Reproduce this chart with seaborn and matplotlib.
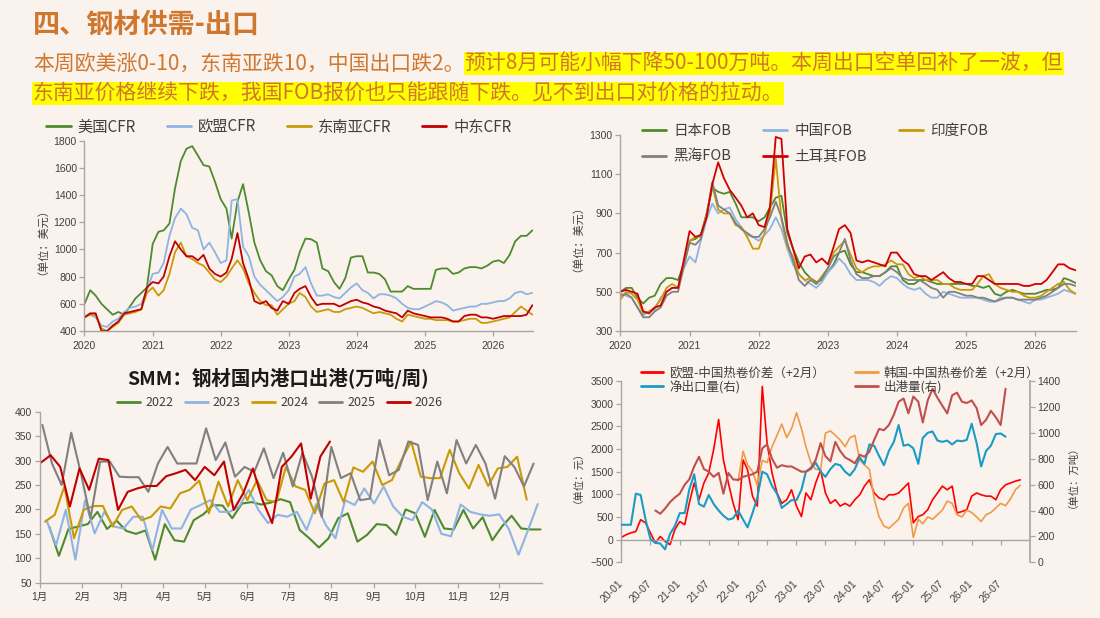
import numpy as np
import pandas as pd
import seaborn as sns
import matplotlib.pyplot as plt
import matplotlib.dates as mdates

# ---------------- data ----------------
# top-left: CFR prices, monthly from 2020-01 (USD/t)
us_cfr = [600, 700, 660, 600, 560, 520, 540, 520, 580, 640,
          680, 720, 1040, 1130, 1140, 1190, 1450, 1650, 1740, 1760,
          1690, 1620, 1610, 1500, 1370, 1300, 1080, 1350, 1480, 1270,
          1050, 920, 840, 810, 730, 700, 780, 850, 980, 1080,
          1075, 1050, 860, 840, 760, 710, 790, 940, 950, 950,
          830, 830, 820, 780, 690, 690, 690, 730, 710, 710,
          710, 710, 850, 860, 860, 820, 830, 860, 870, 870,
          860, 880, 910, 920, 900, 960, 1060, 1100, 1100, 1140]
eu_cfr = [510, 520, 500, 440, 430, 470, 490, 540, 570, 580,
          600, 700, 820, 830, 900, 1100, 1230, 1300, 1260, 1160,
          1140, 1000, 1050, 980, 900, 920, 1360, 1370, 1020, 950,
          800, 740, 700, 660, 620, 650, 700, 800, 820, 870,
          750, 660, 660, 670, 650, 640, 680, 720, 750, 700,
          680, 640, 670, 670, 660, 640, 600, 570, 560, 560,
          580, 600, 620, 610, 590, 550, 560, 570, 580, 580,
          600, 600, 610, 620, 620, 640, 680, 690, 670, 680]
sea_cfr = [500, 520, 520, 420, 400, 430, 460, 520, 530, 540,
           560, 680, 720, 660, 700, 820, 980, 1050, 950, 930,
           900, 880, 830, 780, 760, 800, 860, 920, 860, 750,
           680, 620, 590, 590, 520, 560, 600, 620, 680, 650,
           580, 540, 550, 560, 540, 540, 560, 570, 580, 570,
           550, 530, 540, 530, 520, 490, 470, 520, 510, 500,
           490, 490, 480, 480, 480, 470, 470, 480, 490, 490,
           460, 460, 470, 480, 490, 500, 540, 580, 550, 520]
me_cfr = [500, 530, 530, 400, 400, 440, 470, 530, 540, 550,
          560, 720, 760, 750, 800, 950, 1060, 1000, 950, 950,
          920, 960, 860, 820, 800, 830, 930, 1120, 900, 780,
          620, 600, 620, 570, 550, 620, 600, 680, 710, 730,
          650, 590, 600, 600, 600, 580, 600, 620, 630, 610,
          600, 580, 570, 550, 540, 530, 500, 550, 530, 520,
          510, 500, 500, 500, 490, 470, 470, 510, 520, 520,
          500, 500, 490, 500, 510, 510, 510, 510, 520, 590]

# top-right: FOB prices, monthly from 2020-01 (USD/t)
jp_fob = [500, 520, 520, 470, 440, 470, 480, 540, 570, 570,
          560, 640, 760, 770, 790, 900, 1030, 1010, 1000, 1010,
          950, 880, 880, 880, 860, 880, 930, 980, 990, 800,
          720, 650, 600, 570, 550, 560, 600, 640, 700, 710,
          640, 600, 600, 590, 580, 580, 600, 630, 630, 560,
          540, 540, 560, 560, 550, 540, 540, 540, 540, 540,
          540, 530, 530, 520, 530, 490, 480, 500, 510, 500,
          490, 490, 490, 500, 510, 510, 520, 570, 560, 545]
cn_fob = [490, 480, 470, 420, 380, 400, 410, 470, 500, 520,
          520, 620, 680, 650, 760, 870, 950, 900, 920, 930,
          870, 830, 790, 780, 760, 790, 820, 880, 820, 720,
          640, 590, 560, 540, 520, 550, 600, 630, 670, 640,
          590, 560, 560, 560, 550, 530, 560, 580, 570, 540,
          520, 510, 520, 490, 470, 470, 500, 490, 480, 470,
          470, 470, 470, 460, 450, 450, 470, 470, 470, 460,
          450, 440, 460, 460, 470, 480, 490, 510, 500, 490]
in_fob = [460, 500, 490, 460, 390, 400, 420, 460, 520, 540,
          520, 630, 760, 780, 780, 900, 1040, 920, 900, 900,
          840, 830, 780, 720, 720, 800, 900, 1180, 870, 730,
          680, 590, 560, 570, 540, 580, 620, 700, 730, 760,
          690, 620, 600, 620, 630, 630, 640, 660, 640, 640,
          590, 570, 580, 560, 560, 560, 540, 540, 520, 510,
          510, 510, 540, 580, 590, 540, 520, 510, 500, 500,
          480, 470, 470, 480, 500, 520, 540, 550, 510, 490]
bs_fob = [480, 490, 470, 420, 370, 370, 400, 420, 480, 500,
          500, 630, 750, 740, 770, 890, 1060, 940, 920, 900,
          850, 820, 800, 780, 780, 820, 880, 960, 880, 750,
          660, 560, 530, 560, 540, 570, 620, 680, 700, 770,
          660, 590, 570, 570, 580, 580, 600, 620, 600, 570,
          560, 560, 560, 540, 520, 510, 470, 500, 500, 490,
          480, 480, 470, 470, 460, 450, 460, 470, 470, 460,
          460, 460, 460, 470, 480, 500, 520, 540, 540, 530]
tr_fob = [500, 510, 500, 490, 400, 390, 420, 430, 500, 520,
          520, 660, 810, 780, 790, 880, 1050, 1160, 1080, 1020,
          980, 940, 880, 900, 840, 830, 930, 1290, 1280, 820,
          720, 620, 680, 690, 650, 670, 640, 730, 820, 840,
          800, 660, 650, 660, 650, 640, 630, 700, 700, 660,
          640, 590, 580, 580, 560, 580, 600, 570, 550, 550,
          540, 540, 580, 580, 560, 540, 540, 540, 540, 540,
          530, 530, 540, 540, 560, 600, 640, 640, 620, 610]

# bottom-left: SMM weekly port outflow (10k t/week)
y2022 = [165, 105, 160, 165, 170, 195, 160, 177, 156, 150,
         157, 97, 170, 137, 134, 178, 190, 209, 208, 182,
         212, 215, 210, 214, 221, 215, 158, 141, 122, 141,
         182, 192, 134, 148, 170, 168, 148, 200, 192, 144,
         199, 161, 159, 199, 161, 184, 137, 165, 187, 161,
         159, 159]
y2023 = [178, 127, 199, 97, 219, 151, 195, 165, 161, 185,
         185, 117, 199, 161, 161, 200, 209, 219, 195, 195,
         206, 240, 199, 172, 189, 185, 195, 158, 211, 168,
         141, 219, 209, 243, 212, 247, 206, 185, 178, 215,
         200, 150, 145, 210, 195, 190, 187, 190, 160, 107,
         158, 211]
y2024 = [175, 189, 247, 141, 199, 207, 207, 165, 199, 206,
         178, 185, 206, 202, 233, 240, 259, 192, 257, 206,
         260, 219, 260, 219, 215, 287, 247, 240, 192, 253,
         260, 215, 286, 277, 298, 250, 260, 301, 339, 267,
         264, 264, 322, 274, 243, 291, 248, 284, 287, 308,
         220]
y2025 = [373, 294, 250, 357, 274, 182, 298, 298, 267, 266,
         266, 236, 294, 328, 294, 294, 294, 366, 301, 337,
         267, 287, 277, 325, 264, 316, 247, 316, 267, 185,
         328, 264, 274, 219, 222, 342, 270, 281, 339, 332,
         219, 298, 233, 342, 294, 332, 294, 222, 309, 287,
         247, 294]
y2026 = [296, 311, 287, 206, 284, 240, 304, 301, 199, 236,
         243, 248, 248, 268, 274, 281, 260, 287, 270, 298,
         199, 233, 284, 219, 172, 287, 308, 335, 222, 308,
         339]
port_years = ['2022', '2023', '2024', '2025', '2026']
first_report_day = [8, 6, 5, 3, 2]  # day of year of first weekly report

# bottom-right: price spreads (yuan, left) and volumes (10k t, right), monthly from 2020-01
eu_spread = [50, 110, 150, 180, 440, 370, 150, -70, 70, -40,
             -110, 220, 400, 330, 800, 1250, 880, 1250, 1470, 1990,
             2650, 1760, 1250, 800, 440, 1760, 1540, 960, 740, 3380,
             2130, 1470, 1030, 800, 880, 1100, 740, 510, 1030, 880,
             1250, 1540, 1030, 800, 880, 740, 800, 740, 880, 990,
             1180, 1320, 1030, 920, 880, 990, 990, 1030, 1140, 1250,
             370, 510, 550, 660, 880, 1030, 1180, 1100, 1180, 590,
             620, 660, 960, 1030, 990, 960, 960, 880, 1100, 1210,
             1250, 1290, 1320]
kr_spread = [1300, 1950, 1650, 1500, 1200, 1750,                 # from 2022-01
             1700, 2050, 2300, 2550, 2250, 2450, 2800, 2450, 2050, 1700,
             1550, 1550, 2350, 2400, 2300, 2200, 2050, 2250, 2300, 1750,
             1650, 1550, 900, 500, 300, 250, 350, 450, 700, 800,
             50, 450, 350, 500, 450, 550, 650, 850, 800, 550,
             500, 650, 600, 500, 400, 550, 600, 700, 800, 750,
             900, 1100, 1200]
net_export = [290, 290, 290, 530, 520, 330, 180, 150, 145, 100,
              220, 280, 380, 380, 560, 680, 450, 430, 520, 450,
              400, 360, 330, 340, 400, 330, 270, 380, 500, 700,
              680, 590, 530, 420, 450, 480, 480, 560, 700, 720,
              770, 700, 660, 720, 760, 750, 700, 670, 720, 810,
              760, 910, 900, 820, 750, 860, 930, 1060, 900, 910,
              880, 760, 960, 1000, 1010, 940, 930, 940, 910, 940,
              935, 945, 1070, 920, 740, 860, 900, 990, 995, 970]
port_out = [400, 375, 415,                                     # from 2020-08
            465, 500, 530, 600, 640, 740, 815, 720, 700, 660,
            690, 530, 690, 640, 636, 660, 670, 680, 700, 880,
            910, 800, 730, 750, 740, 740, 720, 700, 700, 730,
            790, 920, 820, 780, 930, 860, 810, 790, 765, 830,
            815, 855, 945, 1030, 1020, 1060, 1140, 1240, 1265, 1150,
            1280, 1240, 1080, 1250, 1340, 1270, 1210, 1150, 1290, 1310,
            1240, 1230, 1250, 1190, 1060, 1100, 1170, 1120, 1060, 1340]

# ---------------- style ----------------
BG = '#FAF2ED'
ORANGE = '#D0772F'
SPINE = '#A6A6A6'
TXT = '#404040'
GREEN, LBLUE, GOLD, GRAY, DRED = '#4E8A2E', '#8DB4E2', '#C99A06', '#808080', '#C00000'

sns.set_theme(style='ticks')
plt.rcParams['font.family'] = ['Liberation Sans', 'Noto Sans CJK SC', 'DejaVu Sans']
plt.rcParams['axes.unicode_minus'] = True
CJK = ['Noto Sans CJK SC', 'DejaVu Sans']

fig = plt.figure(figsize=(11, 6.18), dpi=100)
fig.patch.set_facecolor(BG)


def style_axes(ax):
    ax.set_facecolor(BG)
    sns.despine(ax=ax)
    for s in ('left', 'bottom'):
        ax.spines[s].set_color(SPINE)
        ax.spines[s].set_linewidth(1.0)
    ax.tick_params(colors=SPINE, labelcolor=TXT, labelsize=7.5, length=3.5, width=0.9, pad=2)
    ax.set_xlabel('')
    ax.set_ylabel('')


def fig_legend(ax, handles, labels, xy, size, **kw):
    leg = ax.legend(handles, labels, loc='center', bbox_to_anchor=(xy[0] / 1100, 1 - xy[1] / 618),
                    bbox_transform=fig.transFigure, frameon=False, labelcolor=TXT,
                    prop={'family': CJK, 'size': size}, **kw)
    for ln in leg.get_lines():
        ln.set_linewidth(2.0)
    return leg


months = pd.date_range('2020-01-01', periods=80, freq='MS')

# ---- top-left: CFR ----
cfr_names = ['美国CFR', '欧盟CFR', '东南亚CFR', '中东CFR']
df_cfr = pd.DataFrame({'date': np.tile(months, 4),
                       'price': np.concatenate([us_cfr, eu_cfr, sea_cfr, me_cfr]),
                       'name': np.repeat(cfr_names, 80)})
ax1 = fig.add_axes([0.0768, 0.4644, 0.4077, 0.308])
sns.lineplot(data=df_cfr, x='date', y='price', hue='name', hue_order=cfr_names,
             palette=[GREEN, LBLUE, GOLD, DRED], estimator=None, linewidth=1.3, ax=ax1)
style_axes(ax1)
ax1.set_xlim(pd.Timestamp('2020-01-01'), pd.Timestamp('2026-08-04'))
ax1.set_ylim(400, 1800)
ax1.set_yticks(range(400, 1801, 200))
ax1.xaxis.set_major_locator(mdates.YearLocator())
ax1.xaxis.set_major_formatter(mdates.DateFormatter('%Y'))
ax1.tick_params(axis='x', pad=4)
ax1.set_ylabel('（单位：美元）', fontsize=8, color=TXT, family=CJK)
ax1.yaxis.set_label_coords(-0.0955, 0.5)
h, l = ax1.get_legend_handles_labels()
fig_legend(ax1, h, l, (279, 127), 11, ncol=4, handlelength=1.6, handletextpad=0.45, columnspacing=2.0)

# ---- top-right: FOB ----
fob_names = ['日本FOB', '中国FOB', '印度FOB', '黑海FOB', '土耳其FOB']
df_fob = pd.DataFrame({'date': np.tile(months, 5),
                       'price': np.concatenate([jp_fob, cn_fob, in_fob, bs_fob, tr_fob]),
                       'name': np.repeat(fob_names, 80)})
ax2 = fig.add_axes([0.5639, 0.4644, 0.4147, 0.3172])
sns.lineplot(data=df_fob, x='date', y='price', hue='name', hue_order=fob_names,
             palette=[GREEN, LBLUE, GOLD, GRAY, '#D00000'], estimator=None, linewidth=1.3, ax=ax2)
style_axes(ax2)
ax2.set_xlim(pd.Timestamp('2020-01-01'), pd.Timestamp('2026-08-06'))
ax2.set_ylim(300, 1300)
ax2.set_yticks(range(300, 1301, 200))
ax2.xaxis.set_major_locator(mdates.YearLocator())
ax2.xaxis.set_major_formatter(mdates.DateFormatter('%Y'))
ax2.tick_params(axis='x', pad=4)
ax2.set_ylabel('（单位：美元）', fontsize=8, color=TXT, family=CJK)
ax2.yaxis.set_label_coords(-0.095, 0.5)
h, l = ax2.get_legend_handles_labels()
order = [0, 3, 1, 4, 2]
fig_legend(ax2, [h[i] for i in order], [l[i] for i in order], (815, 144), 10.5, ncol=3,
           handlelength=1.65, handletextpad=0.5, columnspacing=2.2, labelspacing=0.8)

# ---- bottom-left: SMM weekly port outflow ----
frames = []
for yr, vals, d0 in zip(port_years, [y2022, y2023, y2024, y2025, y2026], first_report_day):
    frames.append(pd.DataFrame({'day': d0 + 7 * np.arange(len(vals)), 'vol': vals, 'year': yr}))
df_port = pd.concat(frames, ignore_index=True)
ax3 = fig.add_axes([0.036, 0.0571, 0.4566, 0.2767])
sns.lineplot(data=df_port, x='day', y='vol', hue='year', hue_order=port_years,
             palette=[GREEN, LBLUE, GOLD, GRAY, DRED], estimator=None, linewidth=1.5, ax=ax3)
style_axes(ax3)
ax3.set_xlim(1, 366)
ax3.set_ylim(50, 400)
ax3.set_yticks(range(50, 401, 50))
month_start = [1, 32, 60, 91, 121, 152, 182, 213, 244, 274, 305, 335]
ax3.set_xticks(month_start)
ax3.set_xticklabels([f'{i}月' for i in range(1, 13)])
ax3.tick_params(axis='x', pad=3)
h, l = ax3.get_legend_handles_labels()
fig_legend(ax3, h, l, (280, 403), 9, ncol=5, handlelength=1.85, handletextpad=0.4, columnspacing=0.9)
fig.text(278 / 1100, 1 - 378 / 618, 'SMM：钢材国内港口出港(万吨/周)', ha='center', va='center',
         fontsize=14, fontweight='bold', color='#1A1A1A', family=CJK)

# ---- bottom-right: spreads vs volumes ----
m_all = pd.date_range('2020-01-01', periods=83, freq='MS')
eu_name, kr_name = '欧盟-中国热卷价差（+2月）', '韩国-中国热卷价差（+2月）'
ne_name, po_name = '净出口量(右)', '出港量(右)'
df_sp = pd.concat([pd.DataFrame({'date': m_all, 'v': eu_spread, 'name': eu_name}),
                   pd.DataFrame({'date': m_all[24:], 'v': kr_spread, 'name': kr_name})], ignore_index=True)
df_vol = pd.concat([pd.DataFrame({'date': m_all[:80], 'v': net_export, 'name': ne_name}),
                    pd.DataFrame({'date': m_all[7:80], 'v': port_out, 'name': po_name})], ignore_index=True)
ax4 = fig.add_axes([0.5648, 0.0901, 0.3716, 0.2934])
ax4r = ax4.twinx()
sns.lineplot(data=df_sp, x='date', y='v', hue='name', hue_order=[eu_name, kr_name],
             palette=['#FF0000', '#F09A48'], estimator=None, linewidth=1.2, ax=ax4)
sns.lineplot(data=df_vol, x='date', y='v', hue='name', hue_order=[ne_name, po_name],
             palette=['#1A9CC4', '#C0504D'], estimator=None, linewidth=1.5, ax=ax4r)
style_axes(ax4)
ax4.spines['bottom'].set_position(('data', 0))
ax4r.set_ylabel('')
for s in ('top', 'left', 'bottom'):
    ax4r.spines[s].set_visible(False)
ax4r.spines['right'].set_color(SPINE)
ax4r.tick_params(colors=SPINE, labelcolor=TXT, labelsize=7.5, length=3.5, width=0.9, pad=2)
ax4.set_xlim(pd.Timestamp('2020-01-01'), pd.Timestamp('2027-01-01'))
ax4.set_ylim(-500, 3500)
ax4.set_yticks(range(-500, 3501, 500))
ax4r.set_ylim(0, 1400)
ax4r.set_yticks(range(0, 1401, 200))
xt = pd.date_range('2020-01-01', '2026-07-01', freq='6MS')
ax4.set_xticks(xt)
ax4.set_xticklabels([d.strftime('%y-%m') for d in xt], rotation=45, ha='right', va='center',
                    rotation_mode='anchor')
ax4.tick_params(axis='x', pad=27)
ax4.set_ylabel('（单位：元）', fontsize=7.5, color=TXT, family=CJK)
ax4.yaxis.set_label_coords(-0.1035, 0.5)
ax4r.set_ylabel('（单位：万吨）', fontsize=7.5, color=TXT, family=CJK, rotation=90)
ax4r.yaxis.set_label_coords(1.08, 0.5)
h1, l1 = ax4.get_legend_handles_labels()
h2, l2 = ax4r.get_legend_handles_labels()
if ax4.get_legend() is not None:
    ax4.get_legend().remove()
fig_legend(ax4r, [h1[0], h2[0], h1[1], h2[1]], [l1[0], l2[0], l1[1], l2[1]], (840, 380), 9, ncol=2,
           handlelength=1.8, handletextpad=0.5, columnspacing=2.4, labelspacing=0.0)

# ---- header ----
fig.text(33 / 1100, 1 - 25 / 618, '四、钢材供需-出口', ha='left', va='center', fontsize=19.5,
         fontweight='bold', color=ORANGE, family=CJK)
t1 = fig.text(33 / 1100, 1 - 63.5 / 618, '本周欧美涨0-10，东南亚跌10，中国出口跌2。', ha='left', va='center',
              fontsize=15, color=ORANGE, family=CJK)
renderer = fig.canvas.get_renderer()
bb = t1.get_window_extent(renderer)
fig.text(bb.x1 / fig.bbox.width, 1 - 63.5 / 618, '预计8月可能小幅下降50-100万吨。本周出口空单回补了一波，但',
         ha='left', va='center', fontsize=15, color=ORANGE, family=CJK,
         bbox=dict(facecolor='#FFFF00', edgecolor='none', pad=0.6))
fig.text(33 / 1100, 1 - 93.5 / 618, '东南亚价格继续下跌，我国FOB报价也只能跟随下跌。见不到出口对价格的拉动。',
         ha='left', va='center', fontsize=15, color=ORANGE, family=CJK,
         bbox=dict(facecolor='#FFFF00', edgecolor='none', pad=0.6))

fig.savefig('out.png', dpi=100, facecolor=BG)
